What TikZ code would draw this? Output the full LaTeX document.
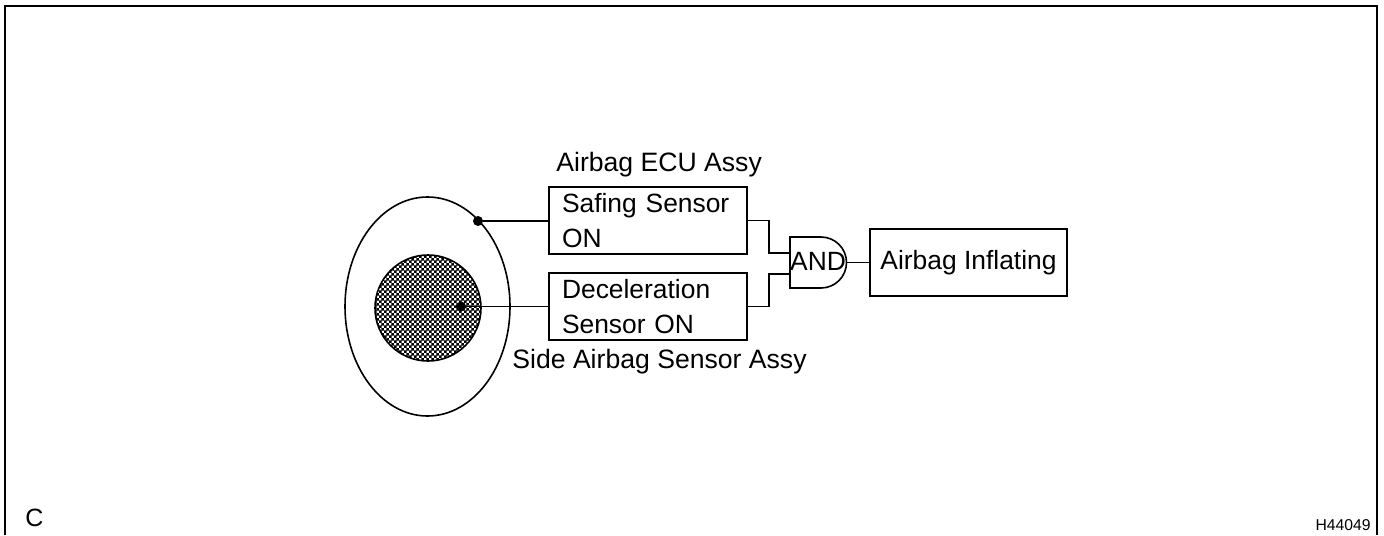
\documentclass[tikz,border=0pt]{standalone}
\usepackage{fontspec}
\setmainfont{Liberation Sans}
\usetikzlibrary{patterns}
\pgfdeclarepatternformonly{sensorcheck}{\pgfqpoint{0pt}{0pt}}{\pgfqpoint{2.4pt}{2.4pt}}{\pgfqpoint{2.4pt}{2.4pt}}{
  \pgfpathrectangle{\pgfqpoint{0pt}{0pt}}{\pgfqpoint{1.3pt}{1.3pt}}
  \pgfpathrectangle{\pgfqpoint{1.2pt}{1.2pt}}{\pgfqpoint{1.3pt}{1.3pt}}
  \pgfusepath{fill}
}
\tikzset{
  sensorbox/.style={draw,line width=0.8pt,outer sep=0pt,text width=86pt,inner xsep=6.5pt,inner ysep=0pt,
    minimum height=33.5pt,align=left,font=\fontsize{13.2}{17.2}\selectfont},
  caption/.style={anchor=base west,inner sep=0pt,font=\fontsize{13.3}{16}\selectfont},
  wire/.style={line width=0.8pt},
  sensordot/.style={circle,fill=black,inner sep=0pt,minimum size=#1}
}
\begin{document}
\begin{tikzpicture}[x=0.5pt,y=-0.5pt]
  \useasboundingbox (0,0) rectangle (1384,535);
  % frame
  \draw[line width=1.4pt] (5,535) -- (5,6) -- (1377,6) -- (1377,535);

  % sensor assy
  \draw[line width=0.8pt] (427.5,306.5) ellipse (82.5 and 109.5);
  \fill[pattern=sensorcheck,pattern color=black] (428,308) circle (53);
  \draw[line width=0.8pt] (428,308) circle (53);

  \node[sensordot=5pt] (outerdot) at (478,221) {};
  \node[sensordot=5pt] (innerdot) at (461,306.5) {};

  % boxes
  \node[sensorbox,anchor=north west] (safing) at (549,187) {Safing Sensor\\ON};
  \node[sensorbox,anchor=north west] (decel) at (549,273) {Deceleration\\Sensor ON};
  \node[draw,line width=0.8pt,outer sep=0pt,minimum width=98.5pt,minimum height=33.5pt,inner sep=0pt,
    font=\fontsize{13.2}{16}\selectfont,anchor=north west] (inflating) at (870,229) {Airbag Inflating};

  % gate
  \draw[line width=0.8pt] (790,237) -- (821,237) arc (-90:90:25.5) -- (790,288) -- cycle;
  \node[inner sep=0pt,font=\fontsize{13.2}{16}\selectfont,anchor=base] (gate) at (818,270) {AND};
  \coordinate (gatea) at (790,253);
  \coordinate (gateb) at (790,274);
  \coordinate (gateout) at (846.5,262.5);

  % wires
  \draw[wire] (outerdot) -- (outerdot -| safing.west);
  \draw[wire] (innerdot) -- (innerdot -| decel.west);
  \draw[wire] (safing.east) -| (769,253) -- (gatea);
  \draw[wire] (decel.east) -| (769,274) -- (gateb);
  \draw[wire] (gateout) -- (gateout -| inflating.west);

  % labels
  \node[caption] (ecu) at (556,171) {Airbag ECU Assy};
  \node[caption] (side) at (512,368) {Side Airbag Sensor Assy};
  \node[anchor=base west,inner sep=0pt,font=\fontsize{12.5}{16}\selectfont] (view) at (25,526) {C};
  \node[anchor=base east,inner sep=0pt,font=\fontsize{7.85}{10}\selectfont] (code) at (1371,530) {H44049};
\end{tikzpicture}
\end{document}
